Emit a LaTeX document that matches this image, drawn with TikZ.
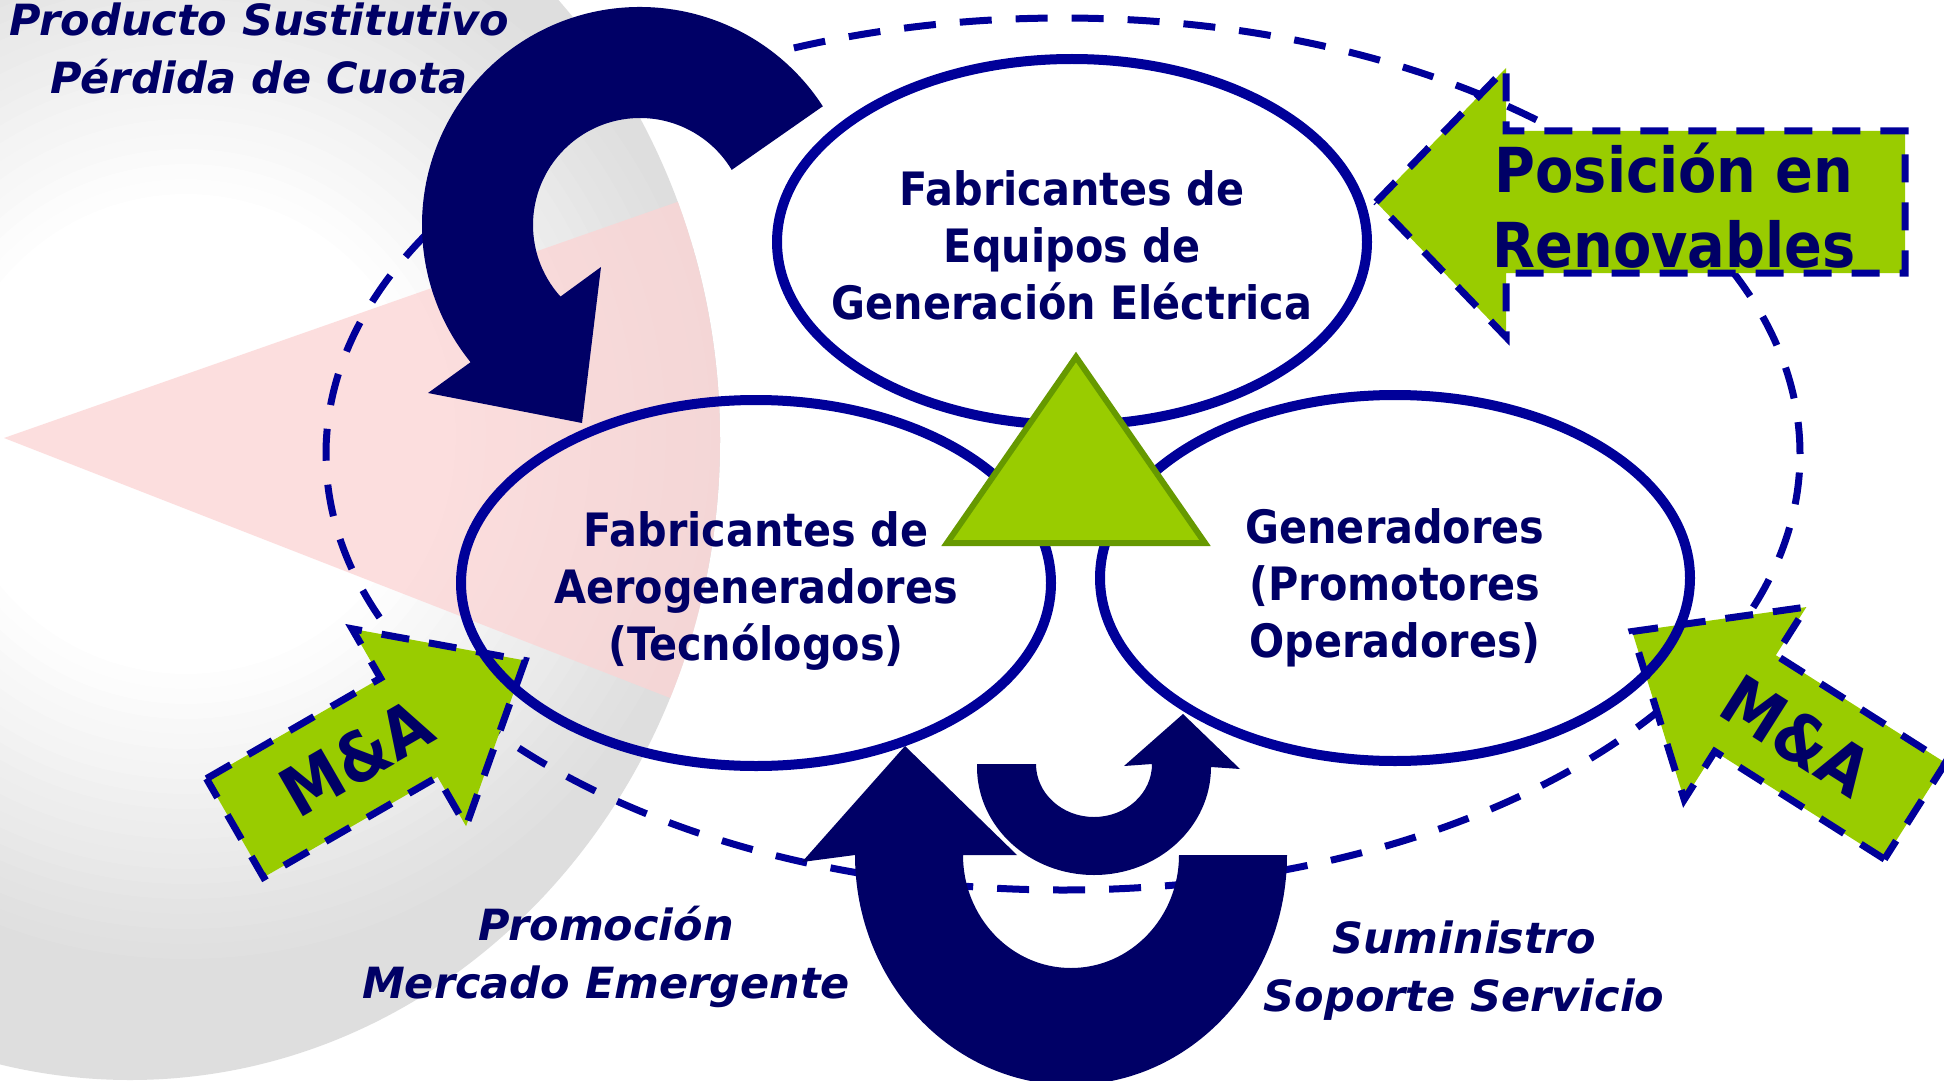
\documentclass[tikz,border=0pt]{standalone}
\usepackage{fontspec}
\usepackage{tikz}
\usetikzlibrary{shapes.geometric,calc}
\newfontfamily\ovalfont{DejaVu Sans Condensed}[BoldFont={DejaVu Sans Condensed Bold}]
\newfontfamily\notefont{DejaVu Sans}[ItalicFont={DejaVu Sans Oblique},BoldItalicFont={DejaVu Sans Bold Oblique}]
\definecolor{navy}{RGB}{0,0,102}
\definecolor{rimblue}{RGB}{0,0,153}
\definecolor{leaf}{RGB}{153,204,0}
\definecolor{leafdark}{RGB}{102,153,0}
\definecolor{blush}{RGB}{252,212,212}
\definecolor{mist}{RGB}{222,222,222}

\begin{document}
\begin{tikzpicture}[x=0.5pt, y=-0.5pt,
    oval/.style={ellipse, draw=rimblue, line width=5pt, minimum width=295pt, minimum height=183pt},
    ovaltext/.style={text=navy, align=center, font=\ovalfont\bfseries\fontsize{23}{28.5}\selectfont},
    note/.style={text=navy, align=center, font=\notefont\bfseries\itshape\fontsize{21.5}{29}\selectfont},
    ring/.style={ellipse, draw=rimblue, line width=3.5pt, dash pattern=on 16pt off 12pt, minimum width=737pt, minimum height=436pt},
    bluearrow/.style={fill=navy},
    greenarrow/.style={fill=leaf, draw=rimblue, line width=3.5pt, dash pattern=on 14pt off 10pt},
    matext/.style={text=navy, font=\ovalfont\bfseries\fontsize{34}{34}\selectfont}]
    \useasboundingbox (0,0) rectangle (1944,1081);
    \fill[white] (0,0) rectangle (1944,1081);
    % background logo
    \begin{scope}
        \clip (0,0) rectangle (1944,1081);
        \clip (130,440) ellipse [x radius=590, y radius=640];
        \fill[mist] (0,0) rectangle (760,1081);
        \foreach \r in {540,525,...,240} {
            \pgfmathtruncatemacro\t{(\r-240)/3}
            \fill[mist!\t!white] (186,434) circle [radius=\r];
        }
        \fill[blush, opacity=0.75] (4,438) -- (760,173) -- (760,733) -- cycle;
    \end{scope}
    \node[ring] (cerco) at (1063,454) {};
    % navy arrows
    \coordinate (hub) at (640,225);
    \fill[bluearrow] ($(hub)+(-33:218)$) arc[start angle=-33, end angle=-219, radius=218]
        -- (428,393) -- (582,423) -- (601,267) -- ($(hub)+(-222:107)$)
        arc[start angle=-222, end angle=-31, radius=107] -- cycle;
    \fill[bluearrow] (855,855) arc[start angle=-180, end angle=-360, x radius=216, y radius=230]
        -- (1179,855) arc[start angle=0, end angle=180, x radius=108, y radius=113]
        -- (1017,855) -- (905,746) -- (802,862) -- cycle;
    \fill[bluearrow] (977,764) -- (1036,764) arc[start angle=-180, end angle=-360, x radius=58, y radius=53]
        -- (1124,766) -- (1183,714) -- (1240,769) -- (1211,767)
        arc[start angle=0, end angle=180, x radius=117, y radius=108] -- cycle;
    % green arrows
    \filldraw[greenarrow] (1376,202) -- (1506,68) -- (1506,131) -- (1905,131) -- (1905,273)
        -- (1506,273) -- (1506,337) -- cycle;
    \node[text=navy, align=center, font=\ovalfont\bfseries\fontsize{31}{37.5}\selectfont] (posicion) at (1674,206) {Posición en\\Renovables};
    \begin{scope}[shift={(235,828)}, rotate=30]
        \filldraw[greenarrow] (0,-57) -- (201,-57) -- (201,-114) -- (335,0) -- (201,114) -- (201,57) -- (0,57) -- cycle;
        \node[matext, rotate=30] (maleft) at (140,0) {M\&A};
    \end{scope}
    \begin{scope}[shift={(1915,811)}, rotate=147.6]
        \filldraw[greenarrow] (0,-57) -- (201,-57) -- (201,-114) -- (335,0) -- (201,114) -- (201,57) -- (0,57) -- cycle;
        \node[matext, rotate=-32.4] (maright) at (140,0) {M\&A};
    \end{scope}
    % the three groups
    \node[oval] (equipos) at (1072,242) {};
    \node[oval] (aero) at (756,583) {};
    \node[oval] (gener) at (1395,578) {};
    \filldraw[fill=leaf, draw=leafdark, line width=3pt] (1076,357) -- (1205,543) -- (947,543) -- cycle;
    \node[ovaltext] at ([yshift=-1.5pt]equipos.center) {Fabricantes de\\Equipos de\\Generación Eléctrica};
    \node[ovaltext] at ([yshift=-4pt]aero.center) {Fabricantes de\\Aerogeneradores\\(Tecnólogos)};
    \node[ovaltext] at ([yshift=-5pt]gener.center) {Generadores\\(Promotores\\Operadores)};
    % labels
    \node[note] (sustituto) at (259,48) {Producto Sustitutivo\\Pérdida de Cuota};
    \node[note] (promocion) at (606,957) {Promoción\\Mercado Emergente};
    \node[note] (suministro) at (1464,971) {Suministro\\Soporte Servicio};
\end{tikzpicture}
\end{document}
